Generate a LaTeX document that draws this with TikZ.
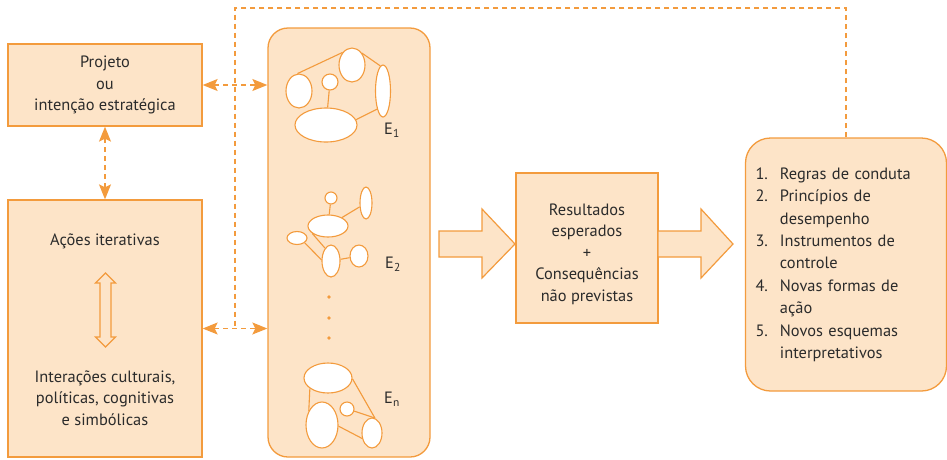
\documentclass[tikz,border=0pt]{standalone}
\usepackage{fontspec}
\setmainfont{PT Sans}
\usepackage{tikz}
\usetikzlibrary{positioning,shapes.geometric,arrows.meta}
\definecolor{laranja}{HTML}{F39B3D}
\definecolor{pele}{HTML}{FDE4C8}
\definecolor{texto}{HTML}{2B2B2B}
\begin{document}
\begin{tikzpicture}[x=1pt,y=-1pt,
          font=\fontsize{16.4}{21.5}\selectfont,
          caixa/.style={draw=laranja,fill=pele,line width=1.3pt,inner sep=0pt,text=texto,align=center},
          bolha/.style 2 args={draw=laranja,fill=white,ellipse,line width=1.1pt,inner sep=0pt,minimum width=#1,minimum height=#2},
          liga/.style={draw=laranja,line width=1.1pt},
          tracejado/.style={draw=laranja,line width=1.3pt,dash pattern=on 5pt off 4pt},
          seta/.style={tracejado,{Stealth[length=15pt,width=12pt,inset=3pt]}-{Stealth[length=15pt,width=12pt,inset=3pt]}},
          bloco/.style={draw=laranja,fill=pele,line width=1.2pt,line join=miter},
          rotulo/.style={text=texto,inner sep=0pt}
            ]
            \useasboundingbox (0,0) rectangle (947,459);
            % caixas
            \node[caixa,minimum width=194pt,minimum height=82pt] (proj) at (105,85) {Projeto\\ou\\intenção estratégica};
            \node[caixa,minimum width=194pt,minimum height=257pt] (acoes) at (105,328.5) {};
            \node[rotulo] (iter) at (105,241) {Ações iterativas};
            \node[rotulo,align=center] (inter) at (105,398) {Interações culturais,\\políticas, cognitivas\\e simbólicas};
            \node[caixa,rounded corners=20pt,minimum width=162pt,minimum height=429pt] (mid) at (349,242.5) {};
            \node[caixa,minimum width=142pt,minimum height=150pt] (res) at (587,248) {};
            \node[rotulo,align=center] (restxt) at ([yshift=-6pt]res.center) {Resultados\\esperados\\+\\Consequências\\não previstas};
            \node[caixa,rounded corners=25pt,text width=181pt,inner xsep=10pt,minimum height=253pt,align=left,
                  font=\fontsize{16.4}{22.4}\selectfont] (regras) at (846,264.5)
                 {\begin{tabular}{@{}l@{\hspace{12pt}}l@{}}
                  1.&Regras de conduta\\
                  2.&Princípios de\\
                    &desempenho\\
                  3.&Instrumentos de\\
                    &controle\\
                  4.&Novas formas de\\
                    &ação\\
                  5.&Novos esquemas\\
                    &interpretativos
                  \end{tabular}};
            % setas cheias
            \draw[bloco] (95.5,283) -- (105.5,273) -- (115.5,283) -- (111,283) -- (111,337) -- (115.5,337)
                 -- (105.5,347) -- (95.5,337) -- (100,337) -- (100,283) -- cycle;
            \draw[bloco] (439,231) -- (482,231) -- (482,209) -- (515,244) -- (482,278) -- (482,257) -- (439,257) -- cycle;
            \draw[bloco] (658,231) -- (701,231) -- (701,209) -- (733,244) -- (701,278) -- (701,257) -- (658,257) -- cycle;
            % E1
            \node[bolha={26pt}{34pt}] (a1) at (299,91) {};
            \node[bolha={16pt}{16pt}] (c1) at (330,82) {};
            \node[bolha={26pt}{34pt}] (t1) at (352,65) {};
            \node[bolha={15pt}{52pt}] (r1) at (383,91) {};
            \node[bolha={62pt}{34pt}] (b1) at (326,125) {};
            \path (a1.95) edge[liga] (t1.127)
            (t1.50) edge[liga] (r1.96)
            (c1) edge[liga] (b1)
            (b1.10) edge[liga] (r1.252);
            \node[rotulo] (e1) at (392,130) {E\textsubscript{1}};
            % E2
            \node[bolha={12pt}{12pt}] (p2) at (331,198) {};
            \node[bolha={12pt}{32pt}] (d2) at (366,203) {};
            \node[bolha={40pt}{22pt}] (m2) at (328,226) {};
            \node[bolha={20pt}{13pt}] (s2) at (297,238) {};
            \node[bolha={18pt}{32pt}] (l2) at (331,261) {};
            \node[bolha={18pt}{22pt}] (k2) at (359,256) {};
            \path (p2) edge[liga] (m2)
            (m2) edge[liga] (d2)
            (m2.205) edge[liga] (l2.115)
            (s2.328) edge[liga] (l2.173)
            (l2) edge[liga] (k2);
            \node[rotulo] (e2) at (393,264) {E\textsubscript{2}};
            % reticencias
            \foreach \y in {297,318,338}
              \fill[laranja] (329,\y) circle (1.8pt);
            % En
            \node[bolha={48pt}{30pt}] (tn) at (328,378) {};
            \node[bolha={32pt}{46pt}] (gn) at (322,425) {};
            \node[bolha={14pt}{14pt}] (cn) at (347,409) {};
            \node[bolha={20pt}{30pt}] (rn) at (372,433) {};
            \path (tn.210) edge[liga] (gn.133)
            (tn.358) edge[liga] (rn.79)
            (cn.344) edge[liga] (rn.79)
            (gn.356) edge[liga] (rn.209);
            \node[rotulo] (en) at (392,399) {E\textsubscript{n}};
            % setas tracejadas
            \draw[seta] (proj.south) -- (acoes.north);
            \draw[seta] (proj.east) -- (proj.east -| mid.west);
            \draw[seta] (acoes.east) -- (acoes.east -| mid.west);
            \coordinate (topo) at (235,8);
            \coordinate (volta) at (235,328.5);
            \draw[tracejado] (regras.north) -- (regras.north |- topo) -- (topo) -- (volta);
\end{tikzpicture}
\end{document}
